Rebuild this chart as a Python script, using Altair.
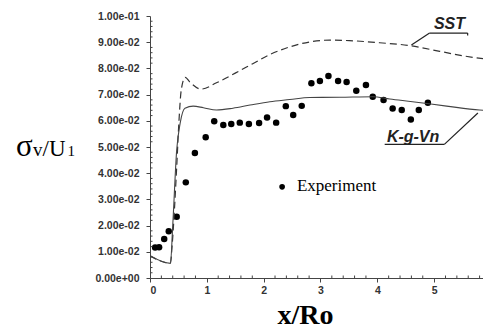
import altair as alt
import pandas as pd

# Experiment points
exp_x = [0.09, 0.16, 0.25, 0.33, 0.47, 0.63, 0.79, 0.98, 1.13, 1.29, 1.43, 1.58, 1.74, 1.92,
         2.06, 2.22, 2.39, 2.52, 2.67, 2.84, 2.99, 3.14, 3.31, 3.46, 3.63, 3.80, 3.92, 4.11,
         4.27, 4.43, 4.59, 4.73, 4.89]
exp_y = [0.0116, 0.0117, 0.0149, 0.0178, 0.0234, 0.0365, 0.0477, 0.0537, 0.0598, 0.0584,
         0.0588, 0.0593, 0.0588, 0.0592, 0.0613, 0.0593, 0.0656, 0.0622, 0.0657, 0.0743,
         0.0752, 0.0771, 0.0752, 0.0748, 0.0715, 0.0737, 0.0692, 0.0679, 0.0647, 0.0641,
         0.0605, 0.0641, 0.0669]

# SST model (dashed)
sst_x = [0, 0.36, 0.39, 0.47, 0.51, 0.55, 0.62, 0.70, 0.90, 1.17, 1.50, 1.80, 2.11, 2.46,
         2.81, 3.16, 3.51, 4.04, 4.57, 5.10, 5.54, 5.86]
sst_y = [0.0085, 0.0056, 0.0126, 0.0425, 0.060, 0.0718, 0.0766, 0.0748, 0.0721, 0.0745,
         0.0782, 0.0817, 0.0853, 0.0882, 0.0901, 0.0908, 0.0906, 0.0898, 0.0887, 0.0865,
         0.0847, 0.0837]

# K-g-Vn model (solid)
kgv_x = [0, 0.36, 0.40, 0.47, 0.53, 0.615, 0.76, 0.94, 1.17, 1.46, 1.76, 2.11, 2.46, 2.81,
         3.34, 3.92, 4.22, 4.62, 5.22, 5.80, 5.98]
kgv_y = [0.0085, 0.0056, 0.020, 0.0489, 0.059, 0.0648, 0.0656, 0.065, 0.0641, 0.0648,
         0.066, 0.0673, 0.0681, 0.0689, 0.069, 0.0692, 0.0683, 0.0673, 0.0656, 0.0641, 0.0639]

x_ticks = [0, 1, 2, 3, 4, 5]
y_ticks = [0.0, 0.01, 0.02, 0.03, 0.04, 0.05, 0.06, 0.07, 0.08, 0.09, 0.10]
y_tick_labels = ["0.00e+00", "1.00e-02", "2.00e-02", "3.00e-02", "4.00e-02", "5.00e-02",
                 "6.00e-02", "7.00e-02", "8.00e-02", "9.00e-02", "1.00e-01"]
x_minor = [i * 0.2 for i in range(30) if i % 5 != 0]
y_minor = [i * 0.002 for i in range(51) if i % 5 != 0]

# annotation segments (data coordinates)
seg_x = [4.92, 5.59, 4.92, 4.13, 5.18]
seg_x2 = [5.59, 5.59, 4.60, 5.18, 5.77]
seg_y = [0.0935, 0.0935, 0.0935, 0.0510, 0.0510]
seg_y2 = [0.0935, 0.0926, 0.0889, 0.0510, 0.0630]

X_MAX = 5.86          # visible right edge of the (cut-off) x axis
W, H = 333, 262
xs = alt.Scale(domain=[0, X_MAX], nice=False)
ys = alt.Scale(domain=[0, 0.1], nice=False)

label_expr = "[" + ",".join("'%s'" % s for s in y_tick_labels) + "][round(datum.value*100)]"

x_axis = alt.Axis(
    values=x_ticks, format="d", tickSize=4, labelPadding=3, domainColor="#444",
    tickColor="#444", labelFont="Liberation Sans", labelFontWeight="bold",
    labelFontSize=10.5, labelColor="#333", grid=False,
    title="x/Ro", titleFont="Liberation Serif", titleFontSize=28, titleFontWeight="bold",
    titleColor="black", titleX=155, titleY=45, titleBaseline="alphabetic",
    titleAnchor="start", titleAlign="center")
y_axis = alt.Axis(
    values=y_ticks, labelExpr=label_expr, tickSize=4, labelPadding=7, domainColor="#444",
    tickColor="#444", labelFont="Liberation Sans", labelFontWeight="bold",
    labelFontSize=10.5, labelColor="#333", grid=False, title=None)

X = alt.X("x:Q", scale=xs, axis=x_axis, title="x/Ro")
Y = alt.Y("y:Q", scale=ys, axis=y_axis, title=None)

exp_df = pd.DataFrame({"x": exp_x, "y": exp_y})
sst_df = pd.DataFrame({"x": sst_x, "y": sst_y})
kgv_df = pd.DataFrame({"x": kgv_x, "y": kgv_y})

points = alt.Chart(exp_df).mark_circle(size=42, color="black", opacity=1).encode(x=X, y=Y)

sst = alt.Chart(sst_df).mark_line(color="#333", strokeWidth=1.2, strokeDash=[7, 4],
                                  interpolate="monotone", clip=True).encode(x=X, y=Y)
kgv = alt.Chart(kgv_df).mark_line(color="#444", strokeWidth=1.1,
                                  interpolate="monotone", clip=True).encode(x=X, y=Y)

xminor = alt.Chart(pd.DataFrame({"x": x_minor})).mark_rule(color="#444", strokeWidth=1).encode(
    x=X, y=alt.value(H), y2=alt.value(H - 2.5))
yminor = alt.Chart(pd.DataFrame({"y": y_minor})).mark_rule(color="#444", strokeWidth=1).encode(
    y=Y, x=alt.value(0), x2=alt.value(2.5))

segs = alt.Chart(pd.DataFrame({"x": seg_x, "x2": seg_x2, "y": seg_y, "y2": seg_y2})).mark_rule(
    color="#222", strokeWidth=1.2).encode(x=X, x2="x2:Q", y=Y, y2="y2:Q")

ann = pd.DataFrame({"x": [5.27, 4.63], "y": [0.0950, 0.0520], "t": ["SST", "K-g-Vn"]})
ann_text = alt.Chart(ann).mark_text(font="Liberation Sans", fontSize=16, fontWeight="bold",
                                    fontStyle="italic", color="#222", baseline="alphabetic",
                                    align="center").encode(x=X, y=Y, text="t:N")

legend_pt = alt.Chart(pd.DataFrame({"x": [2.325], "y": [0.0348]})).mark_circle(
    size=32, color="black", opacity=1).encode(x=X, y=Y)
legend_txt = alt.Chart(pd.DataFrame({"x": [2.585], "y": [0.0332], "t": ["Experiment"]})).mark_text(
    font="Liberation Serif", fontSize=17, color="black", align="left",
    baseline="alphabetic").encode(x=X, y=Y, text="t:N")

# y-axis title pieces: sigma, v, /U, 1
yt_px = [-134.0, -117.0, -107.5, -82.5]
yt_txt = ["σ", "v", "/U", "1"]
yt_size = [31, 19, 23, 15]
ytitle = []
for px, t, s in zip(yt_px, yt_txt, yt_size):
    ytitle.append(alt.Chart(pd.DataFrame({"t": [t]})).mark_text(
        font="Liberation Serif", fontSize=s, color="black", align="left",
        baseline="alphabetic").encode(x=alt.value(px), y=alt.value(139.5), text="t:N"))

chart = alt.layer(points, xminor, yminor, sst, kgv, segs, ann_text, legend_pt, legend_txt,
                  *ytitle).properties(
    width=W, height=H,
    autosize=alt.AutoSizeParams(type="none"),
    padding={"left": 142, "top": 8, "right": 0, "bottom": 50},
).configure_view(stroke=None)

chart.save("out.html", embed_options={"renderer": "svg", "actions": False})
